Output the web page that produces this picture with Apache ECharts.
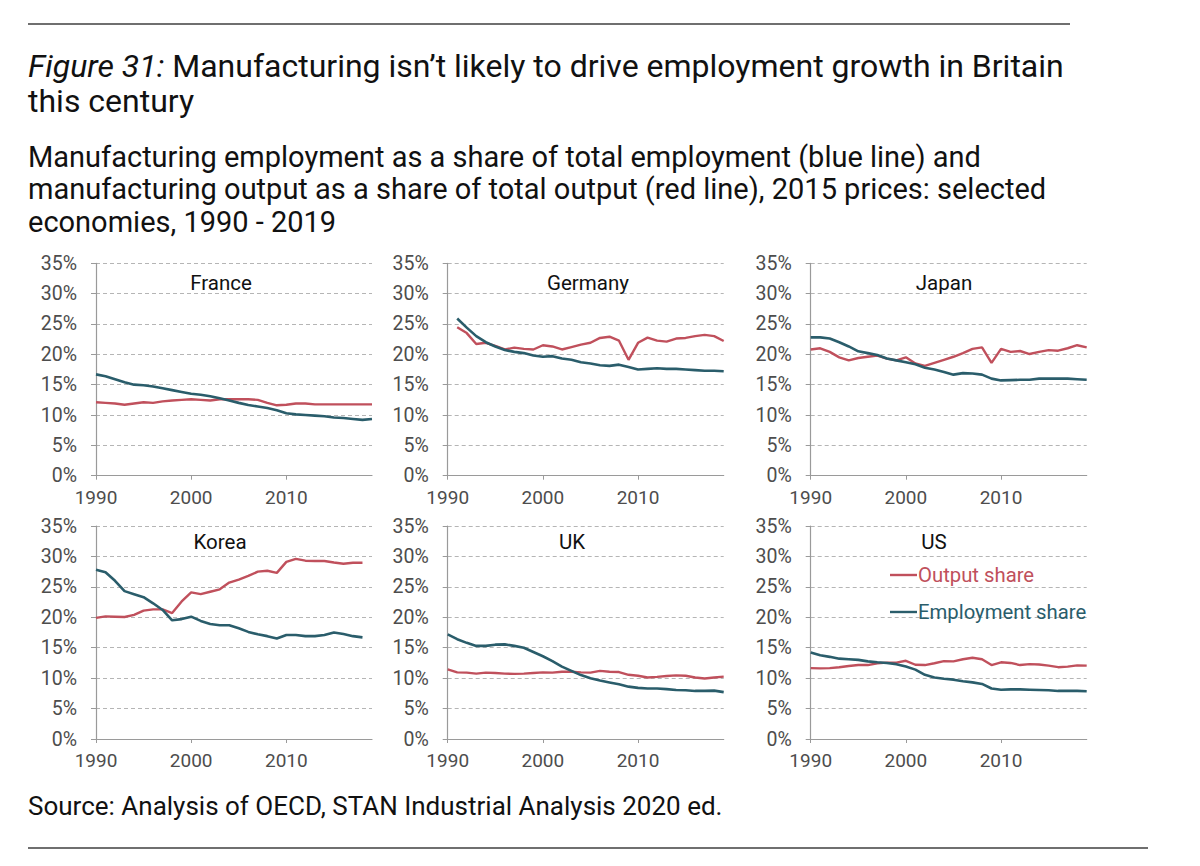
<!DOCTYPE html>
<html>
<head>
<meta charset="utf-8">
<script src="https://cdn.jsdelivr.net/npm/echarts@6/dist/echarts.min.js"></script>
<style>
html,body{margin:0;padding:0;background:#ffffff;}
#chart{width:1200px;height:866px;}
</style>
</head>
<body>
<div id="chart"></div>
<script>
// ---------- data (values in % of total) ----------
const years = [1990,1991,1992,1993,1994,1995,1996,1997,1998,1999,2000,2001,2002,2003,2004,2005,2006,2007,2008,2009,2010,2011,2012,2013,2014,2015,2016,2017,2018,2019];
const xTickLabels = [1990, 2000, 2010];
const yTickLabels = [0, 5, 10, 15, 20, 25, 30, 35];
const countries = ['France', 'Germany', 'Japan', 'Korea', 'UK', 'US'];
const seriesNames = ['Output share', 'Employment share'];

const franceOutput = [12.1,12.0,11.9,11.7,11.9,12.1,12.0,12.25,12.4,12.5,12.6,12.5,12.4,12.6,12.6,12.6,12.6,12.5,12.0,11.6,11.7,11.9,11.9,11.75,11.75,11.75,11.75,11.75,11.75,11.75];
const franceEmployment = [16.7,16.4,15.9,15.4,15.0,14.9,14.7,14.4,14.1,13.8,13.5,13.35,13.1,12.75,12.4,12.0,11.65,11.4,11.15,10.8,10.3,10.1,10.0,9.9,9.8,9.6,9.5,9.35,9.2,9.35];

const germanyOutput = [null,24.45,23.5,21.7,21.9,21.4,20.8,21.1,20.9,20.8,21.5,21.3,20.8,21.2,21.6,21.9,22.7,22.9,22.25,19.1,21.9,22.75,22.25,22.1,22.6,22.7,23.0,23.2,23.0,22.2];
const germanyEmployment = [null,25.9,24.4,23.0,22.0,21.3,20.7,20.4,20.2,19.8,19.6,19.7,19.3,19.1,18.7,18.5,18.2,18.1,18.3,17.9,17.5,17.6,17.7,17.6,17.6,17.5,17.4,17.3,17.3,17.2];

const japanOutput = [20.8,21.0,20.4,19.5,19.0,19.4,19.6,19.8,19.3,19.0,19.5,18.5,18.1,18.6,19.1,19.6,20.2,20.9,21.15,18.6,20.9,20.4,20.55,20.05,20.4,20.7,20.6,21.0,21.5,21.15];
const japanEmployment = [22.8,22.8,22.6,22.0,21.3,20.5,20.2,19.9,19.3,19.0,18.7,18.35,17.8,17.5,17.1,16.65,16.9,16.85,16.65,16.0,15.7,15.75,15.8,15.8,16.0,16.0,16.0,16.0,15.9,15.8];

const koreaOutput = [19.9,20.15,20.1,20.05,20.4,21.1,21.3,21.3,20.7,22.6,24.1,23.8,24.2,24.6,25.7,26.2,26.8,27.5,27.65,27.3,29.1,29.6,29.3,29.25,29.25,29.0,28.8,28.95,28.95,null];
const koreaEmployment = [27.8,27.4,26.0,24.3,23.8,23.3,22.3,21.2,19.5,19.7,20.1,19.4,18.9,18.7,18.7,18.2,17.6,17.2,16.9,16.5,17.1,17.1,16.9,16.9,17.1,17.5,17.25,16.9,16.7,null];

const ukOutput = [11.45,10.95,10.9,10.75,10.9,10.85,10.75,10.7,10.75,10.85,10.95,10.9,11.05,11.05,10.95,10.9,11.2,11.05,11.0,10.55,10.4,10.1,10.2,10.35,10.45,10.4,10.1,9.95,10.1,10.25];
const ukEmployment = [17.2,16.4,15.8,15.3,15.3,15.5,15.55,15.3,15.0,14.3,13.6,12.8,11.9,11.2,10.5,10.0,9.6,9.3,9.0,8.6,8.4,8.3,8.3,8.2,8.05,8.0,7.9,7.9,7.95,7.7];

const usOutput = [11.65,11.6,11.65,11.8,12.0,12.15,12.15,12.45,12.55,12.55,12.85,12.2,12.15,12.45,12.8,12.75,13.1,13.35,13.1,12.15,12.6,12.5,12.15,12.3,12.25,12.05,11.8,11.9,12.1,12.05];
const usEmployment = [14.2,13.75,13.5,13.2,13.1,13.0,12.75,12.6,12.5,12.3,11.9,11.4,10.55,10.1,9.9,9.75,9.5,9.3,9.05,8.3,8.1,8.15,8.15,8.1,8.05,8.0,7.9,7.9,7.9,7.85];

const outputByCountry = [franceOutput, germanyOutput, japanOutput, koreaOutput, ukOutput, usOutput];
const employmentByCountry = [franceEmployment, germanyEmployment, japanEmployment, koreaEmployment, ukEmployment, usEmployment];

// ---------- layout & style ----------
const FONT = 'Roboto';
const RED = '#c0505c';
const TEAL = '#2a5d6b';
const gridBoxes = [
  {left: 96,    top: 263.3, width: 276, height: 212.4, labelX: 221, labelY: 283},
  {left: 447.7, top: 263.3, width: 276, height: 212.4, labelX: 588, labelY: 283},
  {left: 810.7, top: 263.3, width: 276, height: 212.4, labelX: 944, labelY: 283},
  {left: 96,    top: 526,   width: 276, height: 213,   labelX: 220, labelY: 542},
  {left: 447.7, top: 526,   width: 276, height: 213,   labelX: 572, labelY: 542},
  {left: 810.7, top: 526,   width: 276, height: 213,   labelX: 934, labelY: 542}
];

function pairs(arr) {
  const out = [];
  for (let i = 0; i < years.length; i++) {
    if (arr[i] !== null && arr[i] !== undefined) out.push([years[i], arr[i]]);
  }
  return out;
}

const grids = [], xAxes = [], yAxes = [], series = [], graphics = [];
countries.forEach((name, i) => {
  const g = gridBoxes[i];
  grids.push({left: g.left, top: g.top, width: g.width, height: g.height, containLabel: false});
  xAxes.push({
    type: 'value', gridIndex: i, min: 1990, max: 2019, interval: 10,
    axisLine: {show: true, onZero: false, lineStyle: {color: '#9a9a9a', width: 1.2}},
    axisTick: {show: true, length: 4, customValues: xTickLabels, lineStyle: {color: '#9a9a9a'}},
    axisLabel: {customValues: xTickLabels, formatter: v => String(v), fontFamily: FONT, fontSize: 19, color: '#4d4d4d', margin: 12},
    splitLine: {show: false}
  });
  yAxes.push({
    type: 'value', gridIndex: i, min: 0, max: 35, interval: 5,
    axisLine: {show: true, lineStyle: {color: '#9a9a9a', width: 1.2}},
    axisTick: {show: true, length: 5, lineStyle: {color: '#9a9a9a'}},
    axisLabel: {formatter: '{value}%', fontFamily: FONT, fontSize: 19.5, color: '#4d4d4d', margin: 19},
    splitLine: {show: true, lineStyle: {color: '#b5b5b5', type: [4, 3], width: 1}}
  });
  series.push({
    name: seriesNames[0], type: 'line', xAxisIndex: i, yAxisIndex: i,
    data: pairs(outputByCountry[i]), showSymbol: false, symbol: 'none',
    lineStyle: {color: RED, width: 2.4}, itemStyle: {color: RED}, z: 3
  });
  series.push({
    name: seriesNames[1], type: 'line', xAxisIndex: i, yAxisIndex: i,
    data: pairs(employmentByCountry[i]), showSymbol: false, symbol: 'none',
    lineStyle: {color: TEAL, width: 2.6}, itemStyle: {color: TEAL}, z: 4
  });
  graphics.push({
    type: 'text', x: g.labelX, y: g.labelY, z: 10,
    style: {text: name, fontFamily: FONT, fontSize: 20.5, fill: '#111', align: 'center', verticalAlign: 'middle'}
  });
});

// rules
graphics.push({type: 'line', shape: {x1: 28, y1: 24, x2: 1070, y2: 24}, style: {stroke: '#6f6f6f', lineWidth: 2}});
graphics.push({type: 'line', shape: {x1: 28, y1: 848, x2: 1148, y2: 848}, style: {stroke: '#6f6f6f', lineWidth: 2}});

// titles
graphics.push({
  type: 'text', x: 28, y: 66, z: 10,
  style: {
    text: '{i|Figure 31:} Manufacturing isn\u2019t likely to drive employment growth in Britain',
    fontFamily: FONT, fontSize: 32, fill: '#111', verticalAlign: 'middle',
    rich: {i: {fontFamily: FONT, fontSize: 32, fontStyle: 'italic', fill: '#111'}}
  }
});
graphics.push({
  type: 'text', x: 28, y: 101, z: 10,
  style: {text: 'this century', fontFamily: FONT, fontSize: 32, fill: '#111', verticalAlign: 'middle'}
});
const subtitleLines = [
  'Manufacturing employment as a share of total employment (blue line) and',
  'manufacturing output as a share of total output (red line), 2015 prices: selected',
  'economies, 1990 - 2019'
];
const subtitleY = [157, 189, 222];
subtitleLines.forEach((t, k) => {
  graphics.push({
    type: 'text', x: 28, y: subtitleY[k], z: 10,
    style: {text: t, fontFamily: FONT, fontSize: 29, fill: '#111', verticalAlign: 'middle'}
  });
});
graphics.push({
  type: 'text', x: 28, y: 806, z: 10,
  style: {text: 'Source: Analysis of OECD, STAN Industrial Analysis 2020 ed.', fontFamily: FONT, fontSize: 26, fill: '#111', verticalAlign: 'middle'}
});

const chart = echarts.init(document.getElementById('chart'), null, {renderer: 'svg', width: 1200, height: 866});
chart.setOption({
  animation: false,
  backgroundColor: '#ffffff',
  grid: grids,
  xAxis: xAxes,
  yAxis: yAxes,
  series: series,
  legend: {
    left: 885, top: 560, orient: 'vertical', itemGap: 17,
    icon: 'rect', itemWidth: 27, itemHeight: 2.4,
    textStyle: {fontFamily: FONT, fontSize: 20.3, padding: [0, 0, 0, -4]},
    data: [
      {name: seriesNames[0], itemStyle: {color: RED}, textStyle: {color: RED}},
      {name: seriesNames[1], itemStyle: {color: TEAL}, textStyle: {color: TEAL}}
    ],
    selectedMode: false
  },
  graphic: graphics
});
</script>
</body>
</html>
